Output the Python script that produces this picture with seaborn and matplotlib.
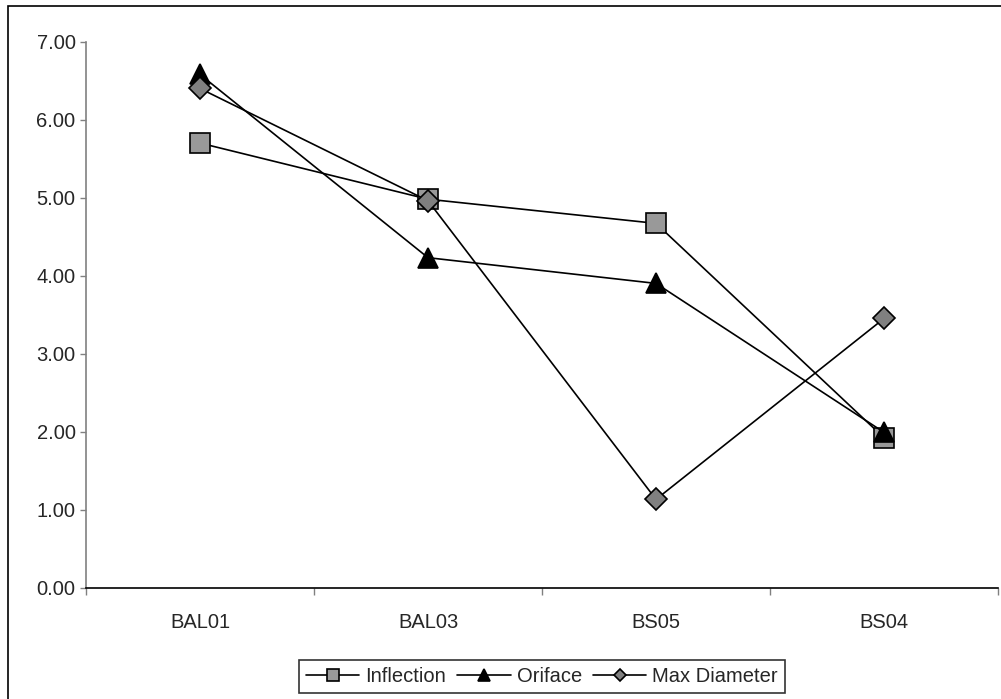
import numpy as np
import pandas as pd
import matplotlib
matplotlib.use("Agg")
import matplotlib.pyplot as plt
from matplotlib.patches import Rectangle
import seaborn as sns

# Site categories and measured values per series
categories = ["BAL01", "BAL03", "BS05", "BS04"]
inflection = [5.70, 4.98, 4.67, 1.92]
oriface = [6.58, 4.23, 3.90, 1.99]
max_diameter = [6.40, 4.96, 1.13, 3.45]
y_ticks = [0, 1, 2, 3, 4, 5, 6, 7]

sns.set_style("white")
plt.rcParams["font.family"] = ["Liberation Sans", "DejaVu Sans"]

W, H = 1001, 699
fig = plt.figure(figsize=(W / 100, H / 100), dpi=100)
ax = fig.add_axes([86 / W, (H - 587.5) / H, (998 - 86) / W, (587.5 - 41.7) / H])

pos = np.arange(len(categories))
series = [
    ("Inflection", inflection, "s", 14.5, "#999999"),
    ("Oriface", oriface, "^", 14.5, "black"),
    ("Max Diameter", max_diameter, "D", 11.5, "#808080"),
]
for name, vals, mk, ms, fc in series:
    df = pd.DataFrame({"pos": pos, "value": vals})
    sns.lineplot(data=df, x="pos", y="value", ax=ax, color="black",
                 linewidth=1.2, marker=mk, markersize=ms,
                 markerfacecolor=fc, markeredgecolor="black",
                 markeredgewidth=1.2, label=name, sort=False)

ax.set_xlim(-0.5, len(categories) - 0.5)
ax.set_ylim(0, 7)
ax.set_yticks(y_ticks)
ax.set_yticklabels([f"{v:.2f}" for v in y_ticks])
ax.set_xticks(pos)
ax.set_xticklabels(categories)
ax.set_xticks(np.arange(-0.5, len(categories)), minor=True)
ax.set_xlabel("")
ax.set_ylabel("")

for s in ["top", "right"]:
    ax.spines[s].set_visible(False)
ax.spines["left"].set_color("#808080")
ax.spines["left"].set_linewidth(1.2)
ax.spines["bottom"].set_color("black")
ax.spines["bottom"].set_linewidth(1.2)

ax.tick_params(axis="y", which="major", direction="out", length=4.5, width=1,
               color="#808080", pad=3, labelsize=14.5, left=True)
ax.tick_params(axis="x", which="major", length=0, pad=18, labelsize=14.5)
ax.tick_params(axis="x", which="minor", direction="out", length=5, width=1,
               color="#808080", bottom=True)

leg = ax.legend(loc="center", bbox_to_anchor=(542 / W, (H - 676.5) / H),
                bbox_transform=fig.transFigure, ncol=3, frameon=True,
                fancybox=False, edgecolor="black", fontsize=14.5,
                markerscale=0.55, handlelength=2.65, handletextpad=0.3,
                columnspacing=0.55, borderpad=0.35, borderaxespad=0)
leg.get_frame().set_linewidth(1.2)

# Outer chart border
fig.patches.append(Rectangle((8.3 / W, -0.1), 1.2, (H - 5.7) / H + 0.1,
                             transform=fig.transFigure, fill=False,
                             edgecolor="black", linewidth=1.2))

fig.savefig("out.png", dpi=100)
